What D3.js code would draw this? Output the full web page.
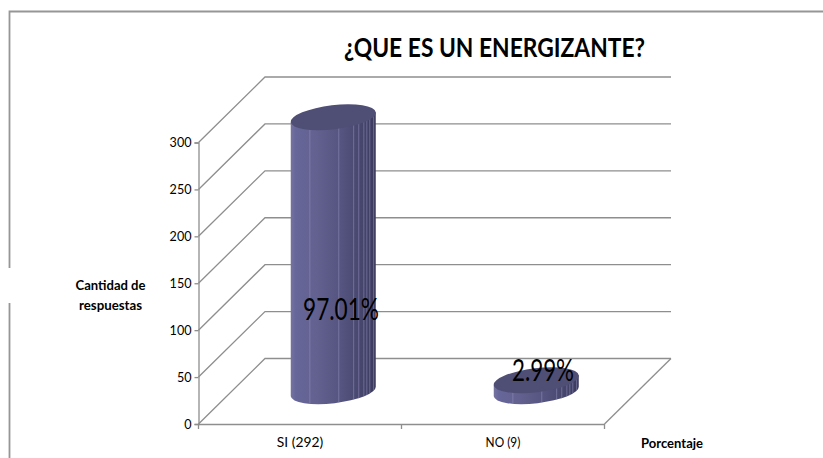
<!DOCTYPE html>
<html><head><meta charset="utf-8">
<script src="https://cdn.jsdelivr.net/npm/d3@7"></script>
<style>
html,body{margin:0;padding:0;background:#fff}
svg{display:block}
text{font-family:Lato,"Open Sans",sans-serif;fill:#000}
</style></head><body><svg id="c" width="823" height="458"></svg>
<script>
const categories = ["SI (292)", "NO (9)"];
const values = [292, 9];
const percentLabels = ["97.01%", "2.99%"];
const yTicks = [0, 50, 100, 150, 200, 250, 300];
const chartTitle = "¿QUE ES UN ENERGIZANTE?";
const yTitle = ["Cantidad de", "respuestas"];
const xTitle = "Porcentaje";
const facetFractions = [-0.55, 0.13, 0.48, 0.6, 0.72, 0.79, 0.86, 0.95];

const svg = d3.select("#c");
const depth = {x: 66.5, y: -65.5};
const x = d3.scaleBand().domain(categories).range([198.5, 604.5]).padding(0);
const y = d3.scaleLinear().domain([0, 300]).range([424, 142.5]);
const GRID = "#8e8e8e";
const fit = (s, w) => s.attr("textLength", w).attr("lengthAdjust", "spacingAndGlyphs");

// page frame
svg.append("path").attr("d", "M9.5,458V11.5H823").attr("fill", "none").attr("stroke", "#969696").attr("stroke-width", 1.8);
svg.append("rect").attr("x", 7).attr("y", 268).attr("width", 5).attr("height", 35).attr("fill", "#fff");

// defs
const defs = svg.append("defs");
const grad = defs.append("linearGradient").attr("id", "body");
[[0, "#74739f"], [0.06, "#67669a"], [0.3, "#62618f"], [0.6, "#555480"], [0.85, "#45446a"], [1, "#3b3a5c"]]
  .forEach(([o, c]) => grad.append("stop").attr("offset", o).attr("stop-color", c));

// walls and gridlines
const g = svg.append("g").attr("fill", "none").attr("stroke", GRID).attr("stroke-width", 1.3);
yTicks.forEach(t => {
  g.append("path").attr("d", d3.line()([
    [x.range()[0], y(t)],
    [x.range()[0] + depth.x, y(t) + depth.y],
    [x.range()[1] + depth.x, y(t) + depth.y]
  ]));
});
g.append("path").attr("d", d3.line()([
  [x.range()[1], y(0)],
  [x.range()[1] + depth.x, y(0) + depth.y]
]));

// axes
const yAxis = d3.axisLeft(y).tickValues(yTicks).tickSize(4).tickPadding(3);
const xAxis = d3.axisBottom(x).tickSize(0).tickPadding(13);
const ga = svg.append("g").attr("transform", `translate(${x.range()[0]},0)`).call(yAxis);
const gb = svg.append("g").attr("transform", `translate(0,${y(0)})`).call(xAxis);
[ga, gb].forEach(s => {
  s.selectAll("path,line").attr("stroke", GRID).attr("stroke-width", 1.3);
  s.selectAll("text").style("font-family", "Lato").style("font-size", "14px").attr("fill", "#000");
});
ga.selectAll("text").each(function (d) { fit(d3.select(this), String(d).length * 7.3); });
gb.selectAll("text").each(function (d) { fit(d3.select(this), d.length * 5.8); });
const edges = [x.range()[0], x.range()[0] + x.bandwidth(), x.range()[1]];
gb.selectAll(".edge").data(edges).enter().append("line").attr("class", "edge")
  .attr("x1", d => d).attr("x2", d => d).attr("y1", 0).attr("y2", 5)
  .attr("stroke", GRID).attr("stroke-width", 1.3);

// cylinders
const rx = 42.8, ry = 12, rot = -6.7, minThickness = 11;
const dxE = rx * Math.cos(rot * Math.PI / 180), dyE = rx * Math.sin(rot * Math.PI / 180);
categories.forEach((c, i) => {
  const cx = x(c) + x.bandwidth() / 2 + depth.x / 2;
  const yb = y(0) + depth.y / 2, yt = Math.min(y(values[i]) + depth.y / 2, yb - minThickness);
  const L = (yy) => [cx - dxE, yy - dyE], R = (yy) => [cx + dxE, yy + dyE];
  const body = `M${L(yt)}L${L(yb)}A${rx},${ry} ${rot} 0 0 ${R(yb)}L${R(yt)}Z`;
  svg.append("path").attr("d", body).attr("fill", "url(#body)");
  const clip = defs.append("clipPath").attr("id", "cl" + i);
  clip.append("path").attr("d", body);
  const fg = svg.append("g").attr("clip-path", `url(#cl${i})`);
  facetFractions.forEach(f => {
    fg.append("line").attr("x1", cx + f * dxE).attr("x2", cx + f * dxE)
      .attr("y1", yt - 20).attr("y2", yb + 20)
      .attr("stroke", "#8f8ebb").attr("stroke-opacity", 0.7).attr("stroke-width", 0.8);
  });
  svg.append("ellipse").attr("cx", 0).attr("cy", 0).attr("rx", rx).attr("ry", ry)
    .attr("transform", `translate(${cx},${yt}) rotate(${rot})`).attr("fill", "#4f4e75");
});

// percentage labels
const labelStyle = [{ x: 341, y: 320, w: 76 }, { x: 543, y: 380.5, w: 62 }];
percentLabels.forEach((t, i) => {
  fit(svg.append("text").attr("x", labelStyle[i].x).attr("y", labelStyle[i].y).attr("text-anchor", "middle")
    .style("font-size", "30px").text(t), labelStyle[i].w);
});

// titles
fit(svg.append("text").attr("x", 494.5).attr("y", 57).attr("text-anchor", "middle")
  .style("font-size", "26px").style("font-weight", 700).text(chartTitle), 301);
const yTitleStyle = [{ y: 290, w: 70 }, { y: 310, w: 63 }];
yTitle.forEach((t, i) => fit(svg.append("text").attr("x", 110.5).attr("y", yTitleStyle[i].y)
  .attr("text-anchor", "middle").style("font-size", "14px").style("font-weight", 700).text(t), yTitleStyle[i].w));
fit(svg.append("text").attr("x", 672).attr("y", 447.5).attr("text-anchor", "middle")
  .style("font-size", "14px").style("font-weight", 700).text(xTitle), 62);
</script></body></html>
